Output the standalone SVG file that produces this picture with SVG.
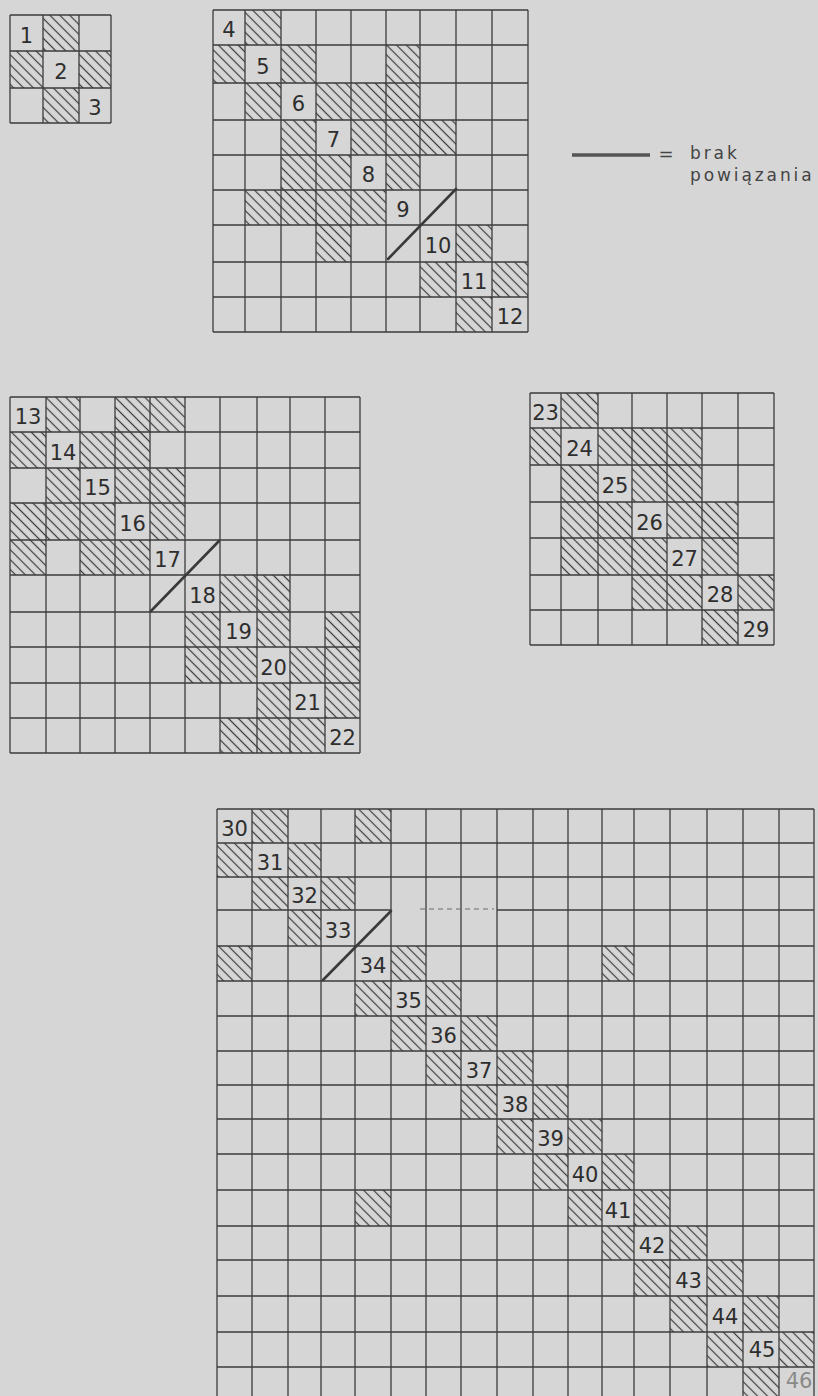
<svg xmlns="http://www.w3.org/2000/svg" width="818" height="1396" viewBox="0 0 818 1396">
<style>
.bg{fill:#d6d6d6}
.g{fill:none;stroke:#3c3c3c;stroke-width:1.3}
.h{fill:url(#hatch);stroke:none}
.n{font-family:"DejaVu Sans",sans-serif;font-size:21px;fill:#2e2e2e;text-anchor:middle}
.n2{font-family:"DejaVu Sans",sans-serif;font-size:21px;fill:#8a8a8a;text-anchor:middle}
.ln{stroke:#3a3a3a;stroke-width:2.6;stroke-linecap:round;fill:none}
.lg{font-family:"DejaVu Sans",sans-serif;font-size:17px;fill:#444;letter-spacing:2.9px}
</style>
<defs>
<pattern id="hatch" patternUnits="userSpaceOnUse" width="7" height="7" patternTransform="rotate(45)">
<line x1="0" y1="3.5" x2="7" y2="3.5" stroke="#3a3a3a" stroke-width="1.2"/>
</pattern>
</defs>
<rect class="bg" x="0" y="0" width="818" height="1396"/>

<g id="m1">
<rect class="h" x="43" y="15" width="36" height="36"/>
<rect class="h" x="10" y="51" width="33" height="37"/>
<rect class="h" x="79" y="51" width="32" height="37"/>
<rect class="h" x="43" y="88" width="36" height="35"/>
<path class="g" d="M10 15V123M43 15V123M79 15V123M111 15V123M10 15H111M10 51H111M10 88H111M10 123H111"/>
<text class="n" x="26.5" y="42.5">1</text>
<text class="n" x="61" y="79">2</text>
<text class="n" x="95" y="115">3</text>
</g>

<g id="m2">
<rect class="h" x="245" y="10" width="36" height="35"/>
<rect class="h" x="213" y="45" width="32" height="38"/>
<rect class="h" x="281" y="45" width="35" height="38"/>
<rect class="h" x="386" y="45" width="34" height="38"/>
<rect class="h" x="245" y="83" width="36" height="37"/>
<rect class="h" x="316" y="83" width="35" height="37"/>
<rect class="h" x="351" y="83" width="35" height="37"/>
<rect class="h" x="386" y="83" width="34" height="37"/>
<rect class="h" x="281" y="120" width="35" height="35"/>
<rect class="h" x="351" y="120" width="35" height="35"/>
<rect class="h" x="386" y="120" width="34" height="35"/>
<rect class="h" x="420" y="120" width="36" height="35"/>
<rect class="h" x="281" y="155" width="35" height="35"/>
<rect class="h" x="316" y="155" width="35" height="35"/>
<rect class="h" x="386" y="155" width="34" height="35"/>
<rect class="h" x="245" y="190" width="36" height="35"/>
<rect class="h" x="281" y="190" width="35" height="35"/>
<rect class="h" x="316" y="190" width="35" height="35"/>
<rect class="h" x="351" y="190" width="35" height="35"/>
<rect class="h" x="316" y="225" width="35" height="37"/>
<rect class="h" x="456" y="225" width="36" height="37"/>
<rect class="h" x="420" y="262" width="36" height="35"/>
<rect class="h" x="492" y="262" width="36" height="35"/>
<rect class="h" x="456" y="297" width="36" height="35"/>
<path class="g" d="M213 10V332M245 10V332M281 10V332M316 10V332M351 10V332M386 10V332M420 10V332M456 10V332M492 10V332M528 10V332M213 10H528M213 45H528M213 83H528M213 120H528M213 155H528M213 190H528M213 225H528M213 262H528M213 297H528M213 332H528"/>
<text class="n" x="229" y="37">4</text>
<text class="n" x="263" y="73.5">5</text>
<text class="n" x="298.5" y="111">6</text>
<text class="n" x="333.5" y="147">7</text>
<text class="n" x="368.5" y="182">8</text>
<text class="n" x="403" y="217">9</text>
<text class="n" x="438" y="253">10</text>
<text class="n" x="474" y="289">11</text>
<text class="n" x="510" y="324">12</text>
</g>

<g id="m3">
<rect class="h" x="46" y="397" width="34" height="35"/>
<rect class="h" x="115" y="397" width="35" height="35"/>
<rect class="h" x="150" y="397" width="35" height="35"/>
<rect class="h" x="10" y="432" width="36" height="36"/>
<rect class="h" x="80" y="432" width="35" height="36"/>
<rect class="h" x="115" y="432" width="35" height="36"/>
<rect class="h" x="46" y="468" width="34" height="35"/>
<rect class="h" x="115" y="468" width="35" height="35"/>
<rect class="h" x="150" y="468" width="35" height="35"/>
<rect class="h" x="10" y="503" width="36" height="37"/>
<rect class="h" x="46" y="503" width="34" height="37"/>
<rect class="h" x="80" y="503" width="35" height="37"/>
<rect class="h" x="150" y="503" width="35" height="37"/>
<rect class="h" x="10" y="540" width="36" height="35"/>
<rect class="h" x="80" y="540" width="35" height="35"/>
<rect class="h" x="115" y="540" width="35" height="35"/>
<rect class="h" x="220" y="575" width="37" height="37"/>
<rect class="h" x="257" y="575" width="33" height="37"/>
<rect class="h" x="185" y="612" width="35" height="35"/>
<rect class="h" x="257" y="612" width="33" height="35"/>
<rect class="h" x="325" y="612" width="35" height="35"/>
<rect class="h" x="185" y="647" width="35" height="36"/>
<rect class="h" x="220" y="647" width="37" height="36"/>
<rect class="h" x="290" y="647" width="35" height="36"/>
<rect class="h" x="325" y="647" width="35" height="36"/>
<rect class="h" x="257" y="683" width="33" height="35"/>
<rect class="h" x="325" y="683" width="35" height="35"/>
<rect class="h" x="220" y="718" width="37" height="35"/>
<rect class="h" x="257" y="718" width="33" height="35"/>
<rect class="h" x="290" y="718" width="35" height="35"/>
<path class="g" d="M10 397V753M46 397V753M80 397V753M115 397V753M150 397V753M185 397V753M220 397V753M257 397V753M290 397V753M325 397V753M360 397V753M10 397H360M10 432H360M10 468H360M10 503H360M10 540H360M10 575H360M10 612H360M10 647H360M10 683H360M10 718H360M10 753H360"/>
<text class="n" x="28" y="424">13</text>
<text class="n" x="63" y="459.5">14</text>
<text class="n" x="97.5" y="495">15</text>
<text class="n" x="132.5" y="531">16</text>
<text class="n" x="167.5" y="567">17</text>
<text class="n" x="202.5" y="603">18</text>
<text class="n" x="238.5" y="639">19</text>
<text class="n" x="273.5" y="674.5">20</text>
<text class="n" x="307.5" y="710">21</text>
<text class="n" x="342.5" y="745">22</text>
</g>

<g id="m4">
<rect class="h" x="561" y="393" width="37" height="35"/>
<rect class="h" x="530" y="428" width="31" height="37"/>
<rect class="h" x="598" y="428" width="34" height="37"/>
<rect class="h" x="632" y="428" width="35" height="37"/>
<rect class="h" x="667" y="428" width="35" height="37"/>
<rect class="h" x="561" y="465" width="37" height="37"/>
<rect class="h" x="632" y="465" width="35" height="37"/>
<rect class="h" x="667" y="465" width="35" height="37"/>
<rect class="h" x="561" y="502" width="37" height="36"/>
<rect class="h" x="598" y="502" width="34" height="36"/>
<rect class="h" x="667" y="502" width="35" height="36"/>
<rect class="h" x="702" y="502" width="36" height="36"/>
<rect class="h" x="561" y="538" width="37" height="37"/>
<rect class="h" x="598" y="538" width="34" height="37"/>
<rect class="h" x="632" y="538" width="35" height="37"/>
<rect class="h" x="702" y="538" width="36" height="37"/>
<rect class="h" x="632" y="575" width="35" height="35"/>
<rect class="h" x="667" y="575" width="35" height="35"/>
<rect class="h" x="738" y="575" width="36" height="35"/>
<rect class="h" x="702" y="610" width="36" height="35"/>
<path class="g" d="M530 393V645M561 393V645M598 393V645M632 393V645M667 393V645M702 393V645M738 393V645M774 393V645M530 393H774M530 428H774M530 465H774M530 502H774M530 538H774M530 575H774M530 610H774M530 645H774"/>
<text class="n" x="545.5" y="420">23</text>
<text class="n" x="579.5" y="456">24</text>
<text class="n" x="615" y="493">25</text>
<text class="n" x="649.5" y="529.5">26</text>
<text class="n" x="684.5" y="566">27</text>
<text class="n" x="720" y="602">28</text>
<text class="n" x="756" y="637">29</text>
</g>

<g id="m5">
<rect class="h" x="252" y="809" width="36" height="34"/>
<rect class="h" x="355" y="809" width="36" height="34"/>
<rect class="h" x="217" y="843" width="35" height="34"/>
<rect class="h" x="288" y="843" width="33" height="34"/>
<rect class="h" x="252" y="877" width="36" height="33"/>
<rect class="h" x="321" y="877" width="34" height="33"/>
<rect class="h" x="288" y="910" width="33" height="36"/>
<rect class="h" x="217" y="946" width="35" height="35"/>
<rect class="h" x="391" y="946" width="35" height="35"/>
<rect class="h" x="602" y="946" width="32" height="35"/>
<rect class="h" x="355" y="981" width="36" height="35"/>
<rect class="h" x="426" y="981" width="35" height="35"/>
<rect class="h" x="391" y="1016" width="35" height="35"/>
<rect class="h" x="461" y="1016" width="36" height="35"/>
<rect class="h" x="426" y="1051" width="35" height="34"/>
<rect class="h" x="497" y="1051" width="36" height="34"/>
<rect class="h" x="461" y="1085" width="36" height="34"/>
<rect class="h" x="533" y="1085" width="35" height="34"/>
<rect class="h" x="497" y="1119" width="36" height="35"/>
<rect class="h" x="568" y="1119" width="34" height="35"/>
<rect class="h" x="533" y="1154" width="35" height="36"/>
<rect class="h" x="602" y="1154" width="32" height="36"/>
<rect class="h" x="355" y="1190" width="36" height="36"/>
<rect class="h" x="568" y="1190" width="34" height="36"/>
<rect class="h" x="634" y="1190" width="36" height="36"/>
<rect class="h" x="602" y="1226" width="32" height="34"/>
<rect class="h" x="670" y="1226" width="37" height="34"/>
<rect class="h" x="634" y="1260" width="36" height="36"/>
<rect class="h" x="707" y="1260" width="36" height="36"/>
<rect class="h" x="670" y="1296" width="37" height="36"/>
<rect class="h" x="743" y="1296" width="36" height="36"/>
<rect class="h" x="707" y="1332" width="36" height="35"/>
<rect class="h" x="779" y="1332" width="35" height="35"/>
<rect class="h" x="743" y="1367" width="36" height="35"/>
<path class="g" d="M217 809V1402M252 809V1402M288 809V1402M321 809V1402M355 809V1402M391 809V1402M426 809V1402M461 809V1402M497 809V1402M533 809V1402M568 809V1402M602 809V1402M634 809V1402M670 809V1402M707 809V1402M743 809V1402M779 809V1402M814 809V1402M217 809H814M217 843H814M217 877H814M217 910H391M497 910H814M217 946H814M217 981H814M217 1016H814M217 1051H814M217 1085H814M217 1119H814M217 1154H814M217 1190H814M217 1226H814M217 1260H814M217 1296H814M217 1332H814M217 1367H814"/>
<path d="M420 909H494" fill="none" stroke="#6a6a6a" stroke-width="1" stroke-dasharray="5 4"/>
<text class="n" x="234.5" y="835.5">30</text>
<text class="n" x="270" y="869.5">31</text>
<text class="n" x="304.5" y="903">32</text>
<text class="n" x="338" y="937.5">33</text>
<text class="n" x="373" y="973">34</text>
<text class="n" x="408.5" y="1008">35</text>
<text class="n" x="443.5" y="1043">36</text>
<text class="n" x="479" y="1077.5">37</text>
<text class="n" x="515" y="1111.5">38</text>
<text class="n" x="550.5" y="1146">39</text>
<text class="n" x="585" y="1181.5">40</text>
<text class="n" x="618" y="1217.5">41</text>
<text class="n" x="652" y="1252.5">42</text>
<text class="n" x="688.5" y="1287.5">43</text>
<text class="n" x="725" y="1323.5">44</text>
<text class="n" x="762" y="1357">45</text>
<text class="n2" x="799" y="1387.5">46</text>
</g>

<g id="connectors">
<path class="ln" d="M388 259L456 189"/>
<path class="ln" d="M151 611L219 541"/>
<path class="ln" d="M323 980L391 911"/>
</g>

<g id="legend">
<path d="M572 155H650" stroke="#555" stroke-width="3.5" fill="none"/>
<text x="666" y="160" font-family="DejaVu Sans, sans-serif" font-size="18" fill="#444" text-anchor="middle">=</text>
<text class="lg" x="690" y="159">brak</text>
<text class="lg" x="690" y="181">powiązania</text>
</g>
</svg>
